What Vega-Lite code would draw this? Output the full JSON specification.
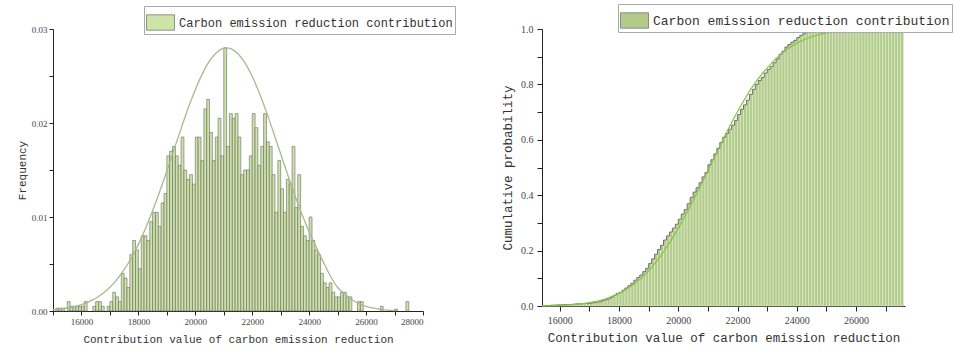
{
"$schema": "https://vega.github.io/schema/vega-lite/v6.json",
"padding": {"left": 16, "top": 3, "right": 5, "bottom": 5},
"background": "white",
"spacing": 45,
"config": {
  "view": {"stroke": null},
  "axis": {"grid": false, "domainColor": "#222", "tickColor": "#222", "labelFont": "Liberation Serif", "titleFont": "Liberation Mono", "titleFontWeight": "normal", "labelColor": "#444", "titleColor": "#333", "labelOverlap": false, "tickCount": 40}
},
"datasets": {
  "hist": [
{"s":15100,"e":15200,"f":0.0003},{"s":15200,"e":15300,"f":0.0003},{"s":15300,"e":15400,"f":0.0003},{"s":15500,"e":15600,"f":0.001},{"s":15600,"e":15700,"f":0.0005},{"s":15700,"e":15800,"f":0.0005},{"s":15800,"e":15900,"f":0.0005},{"s":15900,"e":16000,"f":0.0005},{"s":16000,"e":16100,"f":0.0005},{"s":16100,"e":16200,"f":0.001},{"s":16400,"e":16500,"f":0.0005},{"s":16500,"e":16600,"f":0.001},{"s":16600,"e":16700,"f":0.001},{"s":16700,"e":16800,"f":0.0005},{"s":16900,"e":17000,"f":0.0005},{"s":17000,"e":17100,"f":0.001},{"s":17100,"e":17200,"f":0.002},{"s":17200,"e":17300,"f":0.0015},{"s":17300,"e":17400,"f":0.001},{"s":17400,"e":17500,"f":0.004},{"s":17500,"e":17600,"f":0.0035},{"s":17600,"e":17700,"f":0.0025},{"s":17700,"e":17800,"f":0.006},{"s":17800,"e":17900,"f":0.0075},{"s":17900,"e":18000,"f":0.0065},{"s":18000,"e":18100,"f":0.0045},{"s":18100,"e":18200,"f":0.008},{"s":18200,"e":18300,"f":0.008},{"s":18300,"e":18400,"f":0.0075},{"s":18400,"e":18500,"f":0.0095},{"s":18500,"e":18600,"f":0.0105},{"s":18600,"e":18700,"f":0.0105},{"s":18700,"e":18800,"f":0.009},{"s":18800,"e":18900,"f":0.0115},{"s":18900,"e":19000,"f":0.0125},{"s":19000,"e":19100,"f":0.0165},{"s":19100,"e":19200,"f":0.017},{"s":19200,"e":19300,"f":0.0175},{"s":19300,"e":19400,"f":0.0165},{"s":19400,"e":19500,"f":0.0155},{"s":19500,"e":19600,"f":0.0185},{"s":19600,"e":19700,"f":0.015},{"s":19700,"e":19800,"f":0.014},{"s":19800,"e":19900,"f":0.0145},{"s":19900,"e":20000,"f":0.0135},{"s":20000,"e":20100,"f":0.0185},{"s":20100,"e":20200,"f":0.0185},{"s":20200,"e":20300,"f":0.016},{"s":20300,"e":20400,"f":0.0215},{"s":20400,"e":20500,"f":0.0225},{"s":20500,"e":20600,"f":0.019},{"s":20600,"e":20700,"f":0.016},{"s":20700,"e":20800,"f":0.0185},{"s":20800,"e":20900,"f":0.0205},{"s":20900,"e":21000,"f":0.0165},{"s":21000,"e":21100,"f":0.028},{"s":21100,"e":21200,"f":0.0175},{"s":21200,"e":21300,"f":0.021},{"s":21300,"e":21400,"f":0.0205},{"s":21400,"e":21500,"f":0.021},{"s":21500,"e":21600,"f":0.0185},{"s":21600,"e":21700,"f":0.0145},{"s":21700,"e":21800,"f":0.015},{"s":21800,"e":21900,"f":0.015},{"s":21900,"e":22000,"f":0.0165},{"s":22000,"e":22100,"f":0.021},{"s":22100,"e":22200,"f":0.0195},{"s":22200,"e":22300,"f":0.0155},{"s":22300,"e":22400,"f":0.0175},{"s":22400,"e":22500,"f":0.021},{"s":22500,"e":22600,"f":0.018},{"s":22600,"e":22700,"f":0.0175},{"s":22700,"e":22800,"f":0.0145},{"s":22800,"e":22900,"f":0.0105},{"s":22900,"e":23000,"f":0.016},{"s":23000,"e":23100,"f":0.013},{"s":23100,"e":23200,"f":0.0105},{"s":23200,"e":23300,"f":0.014},{"s":23300,"e":23400,"f":0.0135},{"s":23400,"e":23500,"f":0.0175},{"s":23500,"e":23600,"f":0.011},{"s":23600,"e":23700,"f":0.0145},{"s":23700,"e":23800,"f":0.009},{"s":23800,"e":23900,"f":0.008},{"s":23900,"e":24000,"f":0.0075},{"s":24000,"e":24100,"f":0.01},{"s":24100,"e":24200,"f":0.0075},{"s":24200,"e":24300,"f":0.0065},{"s":24300,"e":24400,"f":0.006},{"s":24400,"e":24500,"f":0.004},{"s":24500,"e":24600,"f":0.003},{"s":24600,"e":24700,"f":0.0025},{"s":24700,"e":24800,"f":0.003},{"s":24800,"e":24900,"f":0.002},{"s":24900,"e":25000,"f":0.0015},{"s":25000,"e":25100,"f":0.0015},{"s":25100,"e":25200,"f":0.002},{"s":25200,"e":25300,"f":0.002},{"s":25300,"e":25400,"f":0.0015},{"s":25400,"e":25500,"f":0.0015},{"s":25700,"e":25800,"f":0.001},{"s":25800,"e":25900,"f":0.001},{"s":26500,"e":26600,"f":0.0005},{"s":27000,"e":27100,"f":0.0002},{"s":27400,"e":27500,"f":0.001}
  ],
  "pdf": [
{"x":15000,"y":0.00014},{"x":15250,"y":0.00021},{"x":15500,"y":0.00032},{"x":15750,"y":0.00047},{"x":16000,"y":0.00068},{"x":16250,"y":0.00097},{"x":16500,"y":0.00136},{"x":16750,"y":0.00187},{"x":17000,"y":0.00253},{"x":17250,"y":0.00337},{"x":17500,"y":0.0044},{"x":17750,"y":0.00563},{"x":18000,"y":0.00709},{"x":18250,"y":0.00877},{"x":18500,"y":0.01066},{"x":18750,"y":0.01271},{"x":19000,"y":0.0149},{"x":19250,"y":0.01717},{"x":19500,"y":0.0194},{"x":19750,"y":0.0216},{"x":20000,"y":0.02355},{"x":20250,"y":0.02525},{"x":20500,"y":0.0266},{"x":20750,"y":0.02751},{"x":21000,"y":0.02796},{"x":21100,"y":0.028},{"x":21250,"y":0.02791},{"x":21500,"y":0.02737},{"x":21750,"y":0.02636},{"x":22000,"y":0.02494},{"x":22250,"y":0.02318},{"x":22500,"y":0.02116},{"x":22750,"y":0.01898},{"x":23000,"y":0.01671},{"x":23250,"y":0.01446},{"x":23500,"y":0.01229},{"x":23750,"y":0.01026},{"x":24000,"y":0.00841},{"x":24250,"y":0.00678},{"x":24500,"y":0.0052},{"x":24750,"y":0.0037},{"x":25000,"y":0.0025},{"x":25250,"y":0.0018},{"x":25500,"y":0.0012},{"x":25750,"y":0.0008},{"x":26000,"y":0.0005},{"x":26250,"y":0.0003},{"x":26500,"y":0.0002},{"x":26750,"y":0.0001},{"x":27000,"y":0.00005}
  ],
  "cum": [
{"s":15400,"e":15500,"c":0.001},{"s":15500,"e":15600,"c":0.002},{"s":15600,"e":15700,"c":0.002},{"s":15700,"e":15800,"c":0.003},{"s":15800,"e":15900,"c":0.003},{"s":15900,"e":16000,"c":0.004},{"s":16000,"e":16100,"c":0.004},{"s":16100,"e":16200,"c":0.005},{"s":16200,"e":16300,"c":0.005},{"s":16300,"e":16400,"c":0.005},{"s":16400,"e":16500,"c":0.006},{"s":16500,"e":16600,"c":0.007},{"s":16600,"e":16700,"c":0.008},{"s":16700,"e":16800,"c":0.008},{"s":16800,"e":16900,"c":0.009},{"s":16900,"e":17000,"c":0.009},{"s":17000,"e":17100,"c":0.01},{"s":17100,"e":17200,"c":0.012},{"s":17200,"e":17300,"c":0.014},{"s":17300,"e":17400,"c":0.015},{"s":17400,"e":17500,"c":0.019},{"s":17500,"e":17600,"c":0.022},{"s":17600,"e":17700,"c":0.025},{"s":17700,"e":17800,"c":0.031},{"s":17800,"e":17900,"c":0.038},{"s":17900,"e":18000,"c":0.045},{"s":18000,"e":18100,"c":0.049},{"s":18100,"e":18200,"c":0.057},{"s":18200,"e":18300,"c":0.065},{"s":18300,"e":18400,"c":0.073},{"s":18400,"e":18500,"c":0.082},{"s":18500,"e":18600,"c":0.093},{"s":18600,"e":18700,"c":0.103},{"s":18700,"e":18800,"c":0.112},{"s":18800,"e":18900,"c":0.124},{"s":18900,"e":19000,"c":0.136},{"s":19000,"e":19100,"c":0.153},{"s":19100,"e":19200,"c":0.17},{"s":19200,"e":19300,"c":0.187},{"s":19300,"e":19400,"c":0.204},{"s":19400,"e":19500,"c":0.219},{"s":19500,"e":19600,"c":0.238},{"s":19600,"e":19700,"c":0.253},{"s":19700,"e":19800,"c":0.267},{"s":19800,"e":19900,"c":0.281},{"s":19900,"e":20000,"c":0.295},{"s":20000,"e":20100,"c":0.313},{"s":20100,"e":20200,"c":0.332},{"s":20200,"e":20300,"c":0.348},{"s":20300,"e":20400,"c":0.369},{"s":20400,"e":20500,"c":0.392},{"s":20500,"e":20600,"c":0.411},{"s":20600,"e":20700,"c":0.427},{"s":20700,"e":20800,"c":0.445},{"s":20800,"e":20900,"c":0.466},{"s":20900,"e":21000,"c":0.482},{"s":21000,"e":21100,"c":0.51},{"s":21100,"e":21200,"c":0.528},{"s":21200,"e":21300,"c":0.549},{"s":21300,"e":21400,"c":0.569},{"s":21400,"e":21500,"c":0.59},{"s":21500,"e":21600,"c":0.609},{"s":21600,"e":21700,"c":0.623},{"s":21700,"e":21800,"c":0.638},{"s":21800,"e":21900,"c":0.653},{"s":21900,"e":22000,"c":0.67},{"s":22000,"e":22100,"c":0.691},{"s":22100,"e":22200,"c":0.71},{"s":22200,"e":22300,"c":0.726},{"s":22300,"e":22400,"c":0.743},{"s":22400,"e":22500,"c":0.764},{"s":22500,"e":22600,"c":0.782},{"s":22600,"e":22700,"c":0.8},{"s":22700,"e":22800,"c":0.814},{"s":22800,"e":22900,"c":0.825},{"s":22900,"e":23000,"c":0.841},{"s":23000,"e":23100,"c":0.854},{"s":23100,"e":23200,"c":0.864},{"s":23200,"e":23300,"c":0.878},{"s":23300,"e":23400,"c":0.892},{"s":23400,"e":23500,"c":0.909},{"s":23500,"e":23600,"c":0.92},{"s":23600,"e":23700,"c":0.935},{"s":23700,"e":23800,"c":0.944},{"s":23800,"e":23900,"c":0.952},{"s":23900,"e":24000,"c":0.959},{"s":24000,"e":24100,"c":0.969},{"s":24100,"e":24200,"c":0.977},{"s":24200,"e":24300,"c":0.983},{"s":24300,"e":24400,"c":0.987},{"s":24400,"e":24500,"c":0.99},{"s":24500,"e":24600,"c":0.992},{"s":24600,"e":24700,"c":0.993},{"s":24700,"e":24800,"c":0.995},{"s":24800,"e":24900,"c":0.996},{"s":24900,"e":25000,"c":0.997},{"s":25000,"e":25100,"c":0.997},{"s":25100,"e":25200,"c":0.998},{"s":25200,"e":25300,"c":0.998},{"s":25300,"e":25400,"c":0.999},{"s":25400,"e":25500,"c":0.999},{"s":25500,"e":25600,"c":1},{"s":25600,"e":25700,"c":1},{"s":25700,"e":25800,"c":1},{"s":25800,"e":25900,"c":1},{"s":25900,"e":26000,"c":1},{"s":26000,"e":26100,"c":1},{"s":26100,"e":26200,"c":1},{"s":26200,"e":26300,"c":1},{"s":26300,"e":26400,"c":1},{"s":26400,"e":26500,"c":1},{"s":26500,"e":26600,"c":1},{"s":26600,"e":26700,"c":1},{"s":26700,"e":26800,"c":1},{"s":26800,"e":26900,"c":1},{"s":26900,"e":27000,"c":1},{"s":27000,"e":27100,"c":1},{"s":27100,"e":27200,"c":1},{"s":27200,"e":27300,"c":1},{"s":27300,"e":27400,"c":1},{"s":27400,"e":27500,"c":1},{"s":27500,"e":27600,"c":1}
  ],
  "cdf": [
{"x":15400,"y":0.0008},{"x":16000,"y":0.0025},{"x":16500,"y":0.0057},{"x":17000,"y":0.0122},{"x":17500,"y":0.0244},{"x":18000,"y":0.0455},{"x":18500,"y":0.078},{"x":19000,"y":0.127},{"x":19500,"y":0.195},{"x":20000,"y":0.281},{"x":20500,"y":0.38},{"x":21000,"y":0.489},{"x":21500,"y":0.599},{"x":22000,"y":0.702},{"x":22500,"y":0.791},{"x":23000,"y":0.86},{"x":23500,"y":0.913},{"x":24000,"y":0.949},{"x":24500,"y":0.972},{"x":25000,"y":0.986},{"x":25500,"y":0.993},{"x":26000,"y":0.997},{"x":26500,"y":0.9988},{"x":27000,"y":1},{"x":27600,"y":1}
  ]
},
"resolve": {"scale": {"color": "independent"}, "legend": {"color": "independent"}},
"hconcat": [
  {
    "width": 370, "height": 282,
    "layer": [
      {
        "data": {"name": "hist"},
        "mark": {"type": "rect", "stroke": "#666", "strokeWidth": 0.6},
        "encoding": {
          "x": {"field": "s", "type": "quantitative", "scale": {"domain": [15000, 28000], "nice": false, "zero": false},
                "axis": {"title": "Contribution value of carbon emission reduction", "values": [15000,16000,17000,18000,19000,20000,21000,22000,23000,24000,25000,26000,27000,28000], "tickCount": 40,
                         "labelExpr": "datum.value % 2000 == 0 ? format(datum.value, 'd') : ''", "labelFontSize": 9, "tickSize": 4, "labelPadding": 2, "titleFontSize": 11, "titlePadding": 7}},
          "x2": {"field": "e"},
          "y": {"field": "f", "type": "quantitative", "scale": {"domain": [0, 0.03], "nice": false},
                "axis": {"title": "Frequency", "values": [0,0.005,0.01,0.015,0.02,0.025,0.03], "tickCount": 40,
                         "labelExpr": "round(datum.value*1000) % 10 == 0 ? format(datum.value, '.2f') : ''", "labelFontSize": 9, "tickSize": 4, "labelPadding": 2, "titleFontSize": 11, "titlePadding": 4}},
          "y2": {"datum": 0},
          "color": {"datum": "Carbon emission reduction contribution", "type": "nominal", "scale": {"range": ["#cde4a6"]},
                    "legend": {"orient": "none", "legendX": 91, "legendY": -23, "title": null, "symbolType": "M-1,-0.55H1V0.55H-1Z", "symbolSize": 784,
                               "symbolStrokeColor": "#777", "symbolStrokeWidth": 0.8, "symbolOpacity": 1, "labelFont": "Liberation Mono", "labelFontSize": 12, "labelColor": "#333", "labelLimit": 500,
                               "strokeColor": "#aaa", "padding": 2, "fillColor": "white"}}
        }
      },
      {
        "data": {"name": "pdf"},
        "mark": {"type": "line", "color": "#a9b98f", "strokeWidth": 1.3, "interpolate": "monotone"},
        "encoding": {"x": {"field": "x", "type": "quantitative"}, "y": {"field": "y", "type": "quantitative"}}
      }
    ]
  },
  {
    "width": 363, "height": 277,
    "layer": [
      {
        "data": {"name": "cum"},
        "mark": {"type": "rect", "stroke": "#e2ecd3", "strokeWidth": 0.6},
        "encoding": {
          "x": {"field": "s", "type": "quantitative", "scale": {"domain": [15400, 27650], "nice": false, "zero": false},
                "axis": {"title": "Contribution value of carbon emission reduction", "values": [16000,17000,18000,19000,20000,21000,22000,23000,24000,25000,26000,27000], "tickCount": 40,
                         "labelExpr": "datum.value % 2000 == 0 ? format(datum.value, 'd') : ''", "labelFontSize": 10, "tickSize": 5, "labelPadding": 4, "titleFontSize": 12.5, "titlePadding": 6}},
          "x2": {"field": "e"},
          "y": {"field": "c", "type": "quantitative", "scale": {"domain": [0, 1], "nice": false},
                "axis": {"title": "Cumulative probability", "values": [0,0.1,0.2,0.3,0.4,0.5,0.6,0.7,0.8,0.9,1], "tickCount": 40,
                         "labelExpr": "round(datum.value*10) % 2 == 0 ? format(datum.value, '.1f') : ''", "labelFontSize": 10, "tickSize": 5, "labelPadding": 4, "titleFontSize": 12.5, "titlePadding": 6}},
          "y2": {"datum": 0},
          "color": {"datum": "Carbon emission reduction contribution", "type": "nominal", "scale": {"range": ["#b2cb8b"]},
                    "legend": {"orient": "none", "legendX": 76, "legendY": -25, "title": null, "symbolType": "M-1,-0.55H1V0.55H-1Z", "symbolSize": 784,
                               "symbolStrokeColor": "#777", "symbolStrokeWidth": 0.8, "symbolOpacity": 1, "symbolFillColor": "#d8f0b4", "labelFont": "Liberation Mono", "labelFontSize": 13, "labelColor": "#333", "labelLimit": 500,
                               "strokeColor": "#aaa", "padding": 2, "fillColor": "white"}}
        }
      },
      {
        "data": {"name": "cum"},
        "mark": {"type": "line", "color": "#555", "strokeWidth": 0.8, "interpolate": "step-after"},
        "encoding": {"x": {"field": "s", "type": "quantitative"}, "y": {"field": "c", "type": "quantitative"}}
      },
      {
        "data": {"name": "cdf"},
        "mark": {"type": "line", "color": "#86c440", "strokeWidth": 1.2, "interpolate": "monotone"},
        "encoding": {"x": {"field": "x", "type": "quantitative"}, "y": {"field": "y", "type": "quantitative"}}
      }
    ]
  }
]
}
